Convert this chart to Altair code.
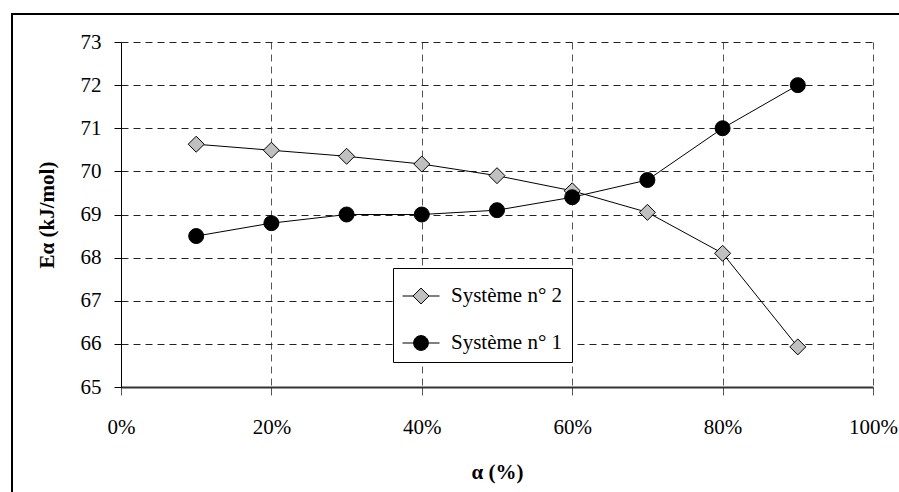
import altair as alt
import pandas as pd

# Conversion rate alpha (fraction) and activation energy E_alpha (kJ/mol)
alpha = [0.1, 0.2, 0.3, 0.4, 0.5, 0.6, 0.7, 0.8, 0.9]
systeme_2 = [70.63, 70.49, 70.35, 70.17, 69.90, 69.55, 69.05, 68.10, 65.93]
systeme_1 = [68.50, 68.80, 69.00, 69.00, 69.10, 69.40, 69.80, 71.00, 72.00]
series_names = ["Système n° 2", "Système n° 1"]
x_ticks = [0.0, 0.2, 0.4, 0.6, 0.8, 1.0]
y_ticks = [65, 66, 67, 68, 69, 70, 71, 72, 73]

df = pd.concat([
    pd.DataFrame({"alpha": alpha, "E": systeme_2, "series": series_names[0]}),
    pd.DataFrame({"alpha": alpha, "E": systeme_1, "series": series_names[1]}),
], ignore_index=True)

FONT = "Liberation Serif"
fills = ["#c0c0c0", "#000000"]

# Legend keys: a short line crossing the marker, drawn as custom symbol paths
diamond_key = "M-1,0L-0.43,0M0.43,0L1,0M-0.43,0L0,-0.43L0.43,0L0,0.43Z"
circle_key = ("M-1,0L-0.4,0M0.4,0L1,0M0.4,0"
              "A0.4,0.4,0,1,1,-0.4,0A0.4,0.4,0,1,1,0.4,0Z")

x_enc = alt.X(
    "alpha:Q",
    scale=alt.Scale(domain=[0, 1], nice=False),
    axis=alt.Axis(
        values=x_ticks, format=".0%", title="α (%)",
        grid=True, gridColor="#555555", gridDash=[7, 5], gridWidth=1,
        domainColor="#333333", domainWidth=2,
        tickColor="#555555", tickSize=8, tickWidth=1,
        labelFont=FONT, labelFontSize=21, labelColor="black",
        labelPadding=21, labelOverlap=False, labelFlush=False,
        titleFont=FONT, titleFontSize=21, titleFontWeight="bold",
        titleColor="black", titlePadding=24,
    ),
)
y_enc = alt.Y(
    "E:Q",
    scale=alt.Scale(domain=[65, 73], nice=False, zero=False),
    axis=alt.Axis(
        values=y_ticks, title="Eα (kJ/mol)",
        grid=True, gridColor="#222222", gridDash=[7, 5], gridWidth=1,
        domainColor="black", domainWidth=1,
        tickColor="black", tickSize=7, tickWidth=1,
        labelFont=FONT, labelFontSize=21, labelColor="black",
        labelPadding=13, labelOverlap=False,
        titleFont=FONT, titleFontSize=21, titleFontWeight="bold",
        titleColor="black", titlePadding=23,
    ),
)

# Outer chart border
frame = alt.Chart(alt.Data(values=[{}])).mark_rect(
    fill="transparent", stroke="black", strokeWidth=2
).encode(
    x=alt.value(-109), x2=alt.value(800),
    y=alt.value(-28), y2=alt.value(600),
)

lines = alt.Chart(df).mark_line(color="black", strokeWidth=1).encode(
    x=x_enc, y=y_enc, detail="series:N"
)

points = alt.Chart(df).mark_point(
    filled=True, stroke="black", strokeWidth=1, opacity=1
).encode(
    x=x_enc,
    y=y_enc,
    shape=alt.Shape("series:N", scale=alt.Scale(domain=series_names, range=["diamond", "circle"]), legend=None),
    fill=alt.Fill("series:N", scale=alt.Scale(domain=series_names, range=fills), legend=None),
    size=alt.Size("series:N", scale=alt.Scale(domain=series_names, range=[256, 225]), legend=None),
)

legend = alt.Legend(
    title=None, orient="none", legendX=272, legendY=226,
    fillColor="white", strokeColor="black", padding=9, cornerRadius=0,
    labelFont=FONT, labelFontSize=21, labelColor="black", labelLimit=400,
    labelOffset=11, rowPadding=18,
    symbolStrokeColor="black", symbolStrokeWidth=1, symbolSize=1369,
)

key = alt.Chart(df).transform_filter("false").mark_point(
    filled=True, strokeWidth=1, opacity=1, size=1369
).encode(
    shape=alt.Shape("series:N", scale=alt.Scale(domain=series_names, range=[diamond_key, circle_key]), legend=legend),
    fill=alt.Fill("series:N", scale=alt.Scale(domain=series_names, range=fills), legend=legend),
    stroke=alt.Stroke("series:N", scale=alt.Scale(domain=series_names, range=["#000000", "#000000"]), legend=legend),
)

chart = alt.layer(frame, lines, points, key).resolve_scale(
    shape="independent", fill="independent", size="independent", stroke="independent"
).properties(
    width=752, height=345,
    view=alt.ViewBackground(strokeWidth=0),
    autosize=alt.AutoSizeParams(type="none"),
    padding={"left": 121, "top": 42, "right": 26, "bottom": 105},
)

chart.save("out.html", embed_options={"renderer": "svg", "actions": False})
